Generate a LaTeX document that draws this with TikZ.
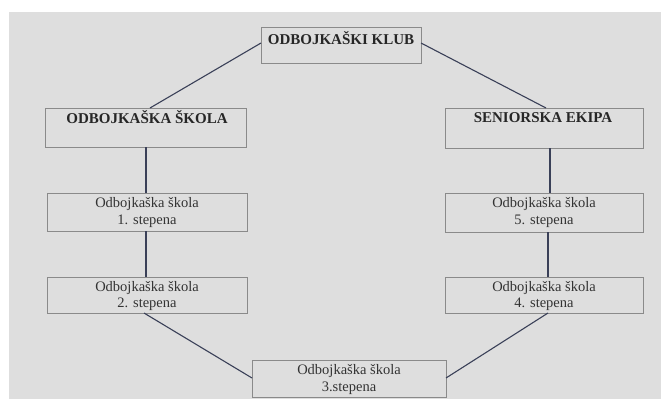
\documentclass[tikz,border=0pt]{standalone}
\usepackage{fontspec}
\setmainfont{Liberation Serif}
\definecolor{bgray}{HTML}{DEDEDE}
\definecolor{boxline}{HTML}{8A8A8A}
\definecolor{conn}{HTML}{3A4058}
\begin{document}
\begin{tikzpicture}[x=1pt,y=-1pt,
  box/.style={draw=boxline,line width=0.9pt,fill=none},
  head/.style={font=\fontsize{15}{17}\selectfont\bfseries,text=black!85,inner sep=0pt},
  txt/.style={font=\fontsize{14.5}{16.5}\selectfont,text=black!80,align=center,inner sep=0pt},
  link/.style={draw=conn,line width=1.1pt}]
\useasboundingbox (0,0) rectangle (661,399);
\fill[white] (0,0) rectangle (661,399);
\fill[bgray] (9,12) rectangle (661,399);

% boxes
\draw[box] (261,27) rectangle (421,63);
\draw[box] (45,108) rectangle (246,147);
\draw[box] (445,108) rectangle (643,148);
\draw[box] (47,193) rectangle (247,231);
\draw[box] (47,277) rectangle (247,313);
\draw[box] (445,193) rectangle (643,232);
\draw[box] (445,277) rectangle (643,313);
\draw[box] (252,360) rectangle (446,397);

% named anchor coordinates on boxes
\coordinate (clubW) at (261,43);
\coordinate (clubE) at (421,43);
\coordinate (skolaN) at (150,108);
\coordinate (skolaS) at (146,147);
\coordinate (seniorN) at (546,108);
\coordinate (seniorS) at (550,148);
\coordinate (sOneN) at (146,193);
\coordinate (sOneS) at (146,231);
\coordinate (sTwoN) at (146,277);
\coordinate (sTwoS) at (144,313);
\coordinate (sFiveN) at (550,193);
\coordinate (sFiveS) at (548,232);
\coordinate (sFourN) at (548,277);
\coordinate (sFourS) at (548,313);
\coordinate (sThreeW) at (252,378);
\coordinate (sThreeE) at (446,378);

% texts
\node[head] (club) at (341,38) {ODBOJKAŠKI KLUB};
\node[head] (skola) at (147,117) {ODBOJKAŠKA ŠKOLA};
\node[head] (senior) at (543,118) {SENIORSKA EKIPA};
\node[txt] (s1) at (147,212.5) {Odbojkaška škola\\1. stepena};
\node[txt] (s2) at (147,296) {Odbojkaška škola\\2. stepena};
\node[txt] (s5) at (544,212.5) {Odbojkaška škola\\5. stepena};
\node[txt] (s4) at (544,296) {Odbojkaška škola\\4. stepena};
\node[txt] (s3) at (349,379.5) {Odbojkaška škola\\3.stepena};

% connectors
\draw[link] (clubW) -- (skolaN);
\draw[link] (clubE) -- (seniorN);
\draw[link] (skolaS) -- (sOneN);
\draw[link] (sOneS) -- (sTwoN);
\draw[link] (sTwoS) -- (sThreeW);
\draw[link] (seniorS) -- (sFiveN);
\draw[link] (sFiveS) -- (sFourN);
\draw[link] (sFourS) -- (sThreeE);
\end{tikzpicture}
\end{document}
